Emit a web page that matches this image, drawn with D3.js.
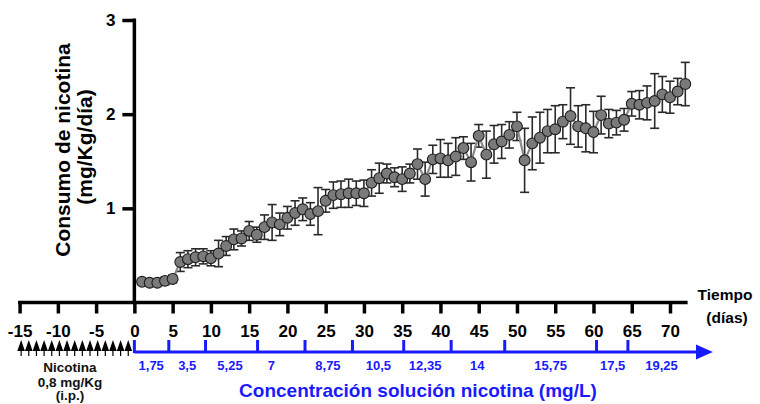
<!DOCTYPE html>
<html>
<head>
<meta charset="utf-8">
<script src="https://cdn.jsdelivr.net/npm/d3@7"></script>
<style>
  html, body { margin: 0; padding: 0; background: #fff; }
  svg { display: block; font-family: "Liberation Sans", Arial, sans-serif; }
</style>
</head>
<body>
<svg id="chart" width="760" height="404"></svg>
<script>
// Daily nicotine intake (mean ± SEM), mg/Kg/día
const days = [1,2,3,4,5,6,7,8,9,10,11,12,13,14,15,16,17,18,19,20,21,22,23,24,25,26,27,28,29,30,
  31,32,33,34,35,36,37,38,39,40,41,42,43,44,45,46,47,48,49,50,51,52,53,54,55,56,57,58,59,60,
  61,62,63,64,65,66,67,68,69,70,71,72];
const intake = [0.22,0.21,0.21,0.23,0.25,0.43,0.46,0.48,0.49,0.47,0.52,0.60,0.67,0.68,0.76,0.72,0.80,0.85,0.83,0.90,
  0.95,0.99,0.94,0.97,1.08,1.14,1.15,1.16,1.16,1.16,1.27,1.32,1.37,1.33,1.31,1.37,1.47,1.31,1.52,1.53,
  1.51,1.55,1.64,1.49,1.77,1.57,1.68,1.71,1.78,1.87,1.51,1.69,1.75,1.82,1.84,1.92,1.98,1.87,1.85,1.81,
  1.99,1.90,1.91,1.94,2.11,2.10,2.12,2.14,2.21,2.18,2.24,2.32];
const sem = [0.03,0.03,0.03,0.04,0.04,0.10,0.09,0.09,0.08,0.08,0.14,0.10,0.11,0.08,0.10,0.08,0.13,0.19,0.12,0.12,
  0.13,0.12,0.12,0.25,0.12,0.14,0.14,0.15,0.13,0.14,0.14,0.16,0.10,0.10,0.13,0.10,0.16,0.18,0.15,0.20,
  0.18,0.20,0.12,0.20,0.12,0.25,0.20,0.18,0.14,0.15,0.34,0.28,0.27,0.23,0.25,0.18,0.30,0.22,0.25,0.22,
  0.20,0.15,0.13,0.12,0.13,0.15,0.18,0.29,0.19,0.17,0.14,0.23];

// Axis ticks
const timeTicks = [-15,-10,-5,0,5,10,15,20,25,30,35,40,45,50,55,60,65,70];
const intakeTicks = [1,2,3];

// Pre-treatment: daily i.p. nicotine injections
const injectionDays = [-15,-14,-13,-12,-11,-10,-9,-8,-7,-6,-5,-4,-3,-2,-1];

// Drinking-solution concentration steps (day boundaries) and their labels
const concBoundaries = [0,4.5,9.3,16.1,22.3,28.5,35.2,41.4,48.4,60.4,64.5];
const concLabels = ["1,75","3,5","5,25","7","8,75","10,5","12,35","14","15,75","17,5","19,25"];
const concLabelDays = [2.2,6.9,12.5,17.9,25.3,31.9,38.0,44.8,54.4,62.5,68.9];

const svg = d3.select("#chart");
const blue = "#1a1aff";

const x = d3.scaleLinear().domain([-15, 70]).range([19.6, 670]);
const y = d3.scaleLinear().domain([0, 3]).range([302.5, 20]);

// ---- Y axis
const yAxis = d3.axisLeft(y).tickValues(intakeTicks).tickSize(12).tickSizeOuter(0).tickPadding(7)
  .tickFormat(d3.format("d"));
const gy = svg.append("g").attr("transform", `translate(${x(0)},0)`).call(yAxis);
gy.select(".domain").attr("stroke", "#000").attr("stroke-width", 3.5)
  .attr("d", `M0,${y(3) - 1.5}V${y(0)}`);
gy.selectAll(".tick line").attr("stroke", "#000").attr("stroke-width", 3.5);
gy.selectAll(".tick text").attr("fill", "#000").style("font-size", "17px").style("font-weight", "bold");

// ---- X (time) axis
const xAxis = d3.axisBottom(x).tickValues(timeTicks).tickSize(11).tickSizeOuter(0).tickPadding(11)
  .tickFormat(d3.format("d"));
const gx = svg.append("g").attr("transform", `translate(0,${y(0)})`).call(xAxis);
gx.select(".domain").attr("stroke", "#000").attr("stroke-width", 3.5)
  .attr("d", `M${x(-15.2)},0H${x(72.3)}`);
gx.selectAll(".tick line").attr("stroke", "#000").attr("stroke-width", 3.5);
gx.selectAll(".tick text").attr("fill", "#000").style("font-size", "17px").style("font-weight", "bold")
  .text(d => d < 0 ? "-" + Math.abs(d) : d);

svg.append("text").attr("x", 725).attr("y", 300).attr("text-anchor", "middle")
  .style("font-size", "15.5px").style("font-weight", "bold").text("Tiempo");
svg.append("text").attr("x", 727).attr("y", 323).attr("text-anchor", "middle")
  .style("font-size", "15.5px").style("font-weight", "bold").text("(días)");

// ---- Y title
const yt = svg.append("g").attr("transform", "translate(70,150) rotate(-90)");
yt.append("text").attr("text-anchor", "middle").attr("y", 0)
  .style("font-size", "21px").style("font-weight", "bold").text("Consumo de nicotina");
yt.append("text").attr("text-anchor", "middle").attr("x", 3).attr("y", 22)
  .style("font-size", "21px").style("font-weight", "bold").text("(mg/Kg/día)");

// ---- Data: error bars, connecting line, points
const pts = days.map((d, i) => ({ day: d, v: intake[i], e: sem[i] }));

const eb = svg.append("g").attr("stroke", "#2a2a2a").attr("stroke-width", 1.6).attr("fill", "none");
pts.forEach(p => {
  const cx = x(p.day), y1 = y(p.v + p.e), y2 = y(p.v - p.e);
  eb.append("line").attr("x1", cx).attr("x2", cx).attr("y1", y1).attr("y2", y2);
  eb.append("line").attr("x1", cx - 4.5).attr("x2", cx + 4.5).attr("y1", y1).attr("y2", y1);
  eb.append("line").attr("x1", cx - 4.5).attr("x2", cx + 4.5).attr("y1", y2).attr("y2", y2);
});

svg.append("path").datum(pts)
  .attr("d", d3.line().x(p => x(p.day)).y(p => y(p.v)))
  .attr("fill", "none").attr("stroke", "#8a8a8a").attr("stroke-width", 2.2);

svg.append("g").selectAll("circle").data(pts).join("circle")
  .attr("cx", p => x(p.day)).attr("cy", p => y(p.v)).attr("r", 5.4)
  .attr("fill", "#7a7a7a").attr("stroke", "#1e1e1e").attr("stroke-width", 1.1);

// ---- Injection markers
const step = x(1) - x(0);
const inj = svg.append("g");
injectionDays.forEach(d => {
  const cx = x(d + 0.2);
  inj.append("path")
    .attr("d", `M${cx - step / 2},351L${cx},340L${cx + step / 2},351Z`)
    .attr("fill", "#000");
  inj.append("line").attr("x1", cx).attr("x2", cx).attr("y1", 350).attr("y2", 356)
    .attr("stroke", "#000").attr("stroke-width", 1.2);
});
const injText = [["Nicotina", 371.5], ["0,8 mg/Kg", 386.5], ["(i.p.)", 400]];
injText.forEach(([t, yy]) => {
  svg.append("text").attr("x", 70).attr("y", yy).attr("text-anchor", "middle")
    .style("font-size", "13.5px").style("font-weight", "bold").attr("fill", "#111").text(t);
});

// ---- Concentration axis (blue arrow)
const cy = 352;
const ca = svg.append("g");
ca.append("line").attr("x1", x(0)).attr("x2", x(73.6)).attr("y1", cy).attr("y2", cy)
  .attr("stroke", blue).attr("stroke-width", 3);
ca.append("path")
  .attr("d", `M${x(73.4)},${cy - 7.5}L${x(75.6)},${cy}L${x(73.4)},${cy + 7.5}Z`)
  .attr("fill", blue);
ca.selectAll("line.tk").data(concBoundaries).join("line").attr("class", "tk")
  .attr("x1", d => x(d)).attr("x2", d => x(d)).attr("y1", cy - 12).attr("y2", cy + 1)
  .attr("stroke", blue).attr("stroke-width", 3);
ca.selectAll("text").data(concLabels).join("text")
  .attr("x", (d, i) => x(concLabelDays[i])).attr("y", 370).attr("text-anchor", "middle")
  .attr("fill", blue).style("font-size", "13px").style("font-weight", "bold").text(d => d);

svg.append("text").attr("x", 418).attr("y", 397).attr("text-anchor", "middle")
  .attr("fill", blue).style("font-size", "19px").style("font-weight", "bold")
  .text("Concentración solución nicotina (mg/L)");
</script>
</body>
</html>
